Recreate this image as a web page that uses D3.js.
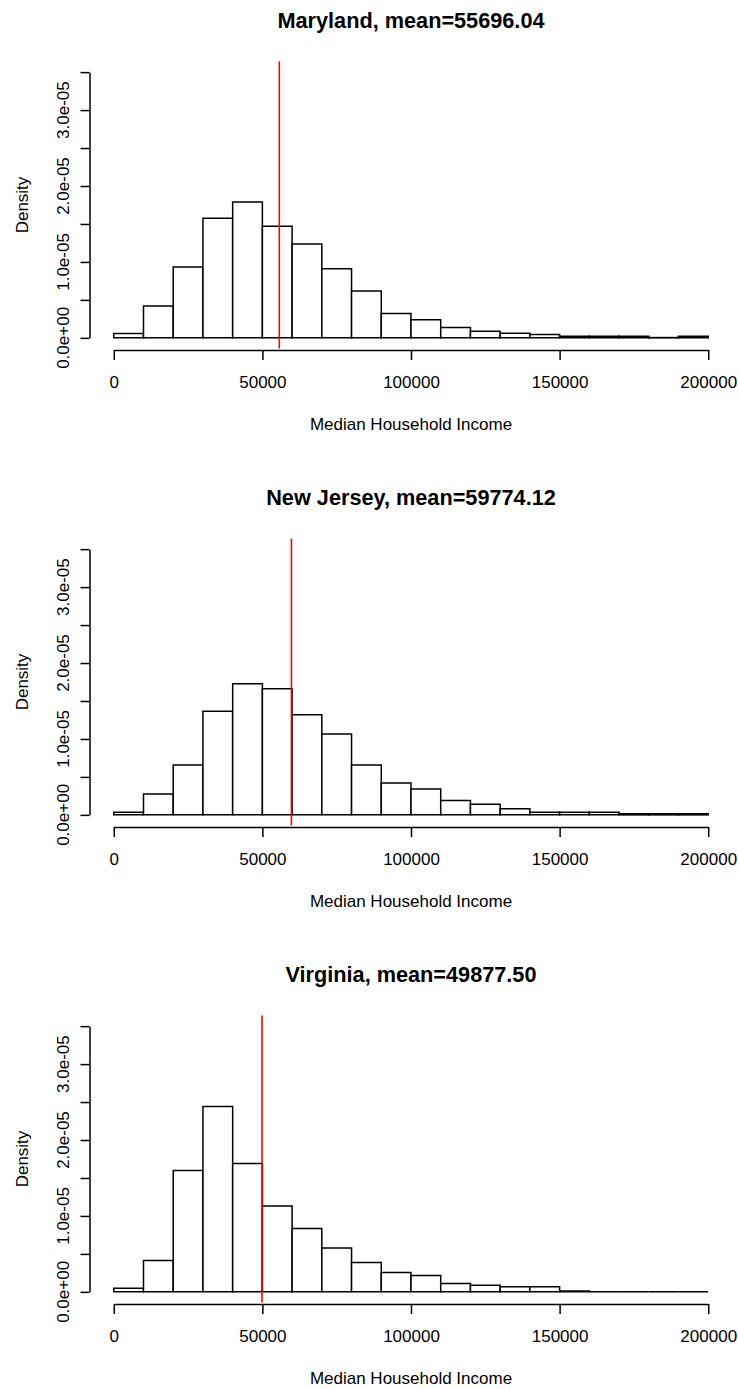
<!doctype html>
<html lang="en">
<head>
<meta charset="utf-8">
<style>
  body { margin: 0; background: #fff; }
  svg text { font-family: "Liberation Sans", Arial, sans-serif; fill: #000; }
</style>
</head>
<body>
<div id="grafico"></div>
<script src="https://d3js.org/d3.v7.min.js"></script>
<script>

// bin edges of the histograms (income)
var breaks = [0, 10000, 20000, 30000, 40000, 50000, 60000, 70000, 80000, 90000, 100000,
              110000, 120000, 130000, 140000, 150000, 160000, 170000, 180000, 190000, 200000];

// states, means and densities (in units of 1e-5)
var states = ["Maryland", "New Jersey", "Virginia"];
var means = [55696.04, 59774.12, 49877.50];
var maryland = [0.057, 0.42, 0.934, 1.575, 1.79, 1.47, 1.237, 0.912, 0.618, 0.32,
                0.24, 0.136, 0.088, 0.061, 0.044, 0.02, 0.02, 0.02, 0.004, 0.022];
var newJersey = [0.035, 0.276, 0.658, 1.364, 1.728, 1.662, 1.32, 1.066, 0.658, 0.42,
                 0.342, 0.189, 0.14, 0.079, 0.035, 0.035, 0.035, 0.015, 0.015, 0.015];
var virginia = [0.048, 0.412, 1.6, 2.44, 1.69, 1.13, 0.833, 0.579, 0.386, 0.254,
                0.215, 0.11, 0.088, 0.066, 0.066, 0.012, 0, 0, 0, 0];
var densities = [maryland, newJersey, virginia];

// axis ticks
var xTicks = [0, 50000, 100000, 150000, 200000];
var yTicks = [0, 0.5, 1, 1.5, 2, 2.5, 3, 3.5];
var yLabelValues = [0, 1, 2, 3];
var yLabels = ["0.0e+00", "1.0e-05", "2.0e-05", "3.0e-05"];

var ancho = 738, alto = 1389, paso = 477;
var izq = 90, der = 732, arriba = 61.5, abajo = 348.5;

var xlim = [0, 200000], ylim = [0, 3.5];
var padX = 0.04 * (xlim[1] - xlim[0]), padY = 0.04 * (ylim[1] - ylim[0]);

var x = d3.scaleLinear().domain([xlim[0] - padX, xlim[1] + padX]).range([izq, der]);
var y = d3.scaleLinear().domain([ylim[0] - padY, ylim[1] + padY]).range([abajo, arriba]);

// the axis lines only run between the first and last tick, like R
var xa = x.copy().domain(xlim).range([x(xlim[0]), x(xlim[1])]);
var ya = y.copy().domain(ylim).range([y(ylim[0]), y(ylim[1])]);

var svg = d3.select("#grafico").append("svg").attr("width", ancho).attr("height", alto);

states.forEach(function(nombre, i) {
  var g = svg.append("g").attr("transform", "translate(0," + (i * paso) + ")");
  var bins = densities[i].map(function(d, j) { return { x0: breaks[j], x1: breaks[j + 1], d: d }; });

  // paths instead of rects so that empty bins still show as a line
  g.selectAll("path.bar").data(bins).enter().append("path").attr("class", "bar")
    .attr("d", function(b) {
      var p = d3.path();
      p.rect(x(b.x0), y(b.d), x(b.x1) - x(b.x0), y(0) - y(b.d));
      return p.toString();
    })
    .attr("fill", "#fff").attr("stroke", "#000").attr("stroke-width", 1.5);

  g.append("line")
    .attr("x1", x(means[i])).attr("x2", x(means[i]))
    .attr("y1", arriba).attr("y2", abajo)
    .attr("stroke", "#ff0000").attr("stroke-width", 1.6);

  var ejeX = g.append("g").attr("transform", "translate(0," + (abajo + 1.5) + ")")
    .call(d3.axisBottom(xa).tickValues(xTicks).tickSize(10).tickSizeOuter(0).tickPadding(16)
      .tickFormat(function(d) { return String(d); }));
  ejeX.selectAll("text").style("font-size", "17px");

  var ejeY = g.append("g").attr("transform", "translate(" + (izq - 0.5) + ",0)")
    .call(d3.axisLeft(ya).tickValues(yTicks).tickSize(9).tickSizeOuter(0).tickFormat(""));

  [ejeX, ejeY].forEach(function(e) {
    e.select(".domain").attr("stroke", "#000").attr("stroke-width", 1.5);
    e.selectAll(".tick line").attr("stroke", "#000").attr("stroke-width", 1.5);
  });

  g.selectAll("text.ylab").data(yLabelValues).enter().append("text").attr("class", "ylab")
    .attr("transform", function(v) { return "translate(69," + ya(v) + ") rotate(-90)"; })
    .attr("text-anchor", "middle").style("font-size", "17px")
    .text(function(v, k) { return yLabels[k]; });

  g.append("text").attr("x", (izq + der) / 2).attr("y", 28).attr("text-anchor", "middle")
    .style("font-size", "21.7px").style("font-weight", "bold")
    .text(nombre + ", mean=" + means[i].toFixed(2));

  g.append("text").attr("x", (izq + der) / 2).attr("y", 430).attr("text-anchor", "middle")
    .style("font-size", "17px").text("Median Household Income");

  g.append("text").attr("transform", "translate(28," + ((arriba + abajo) / 2) + ") rotate(-90)")
    .attr("text-anchor", "middle").style("font-size", "17px").text("Density");
});

</script>
</body>
</html>
